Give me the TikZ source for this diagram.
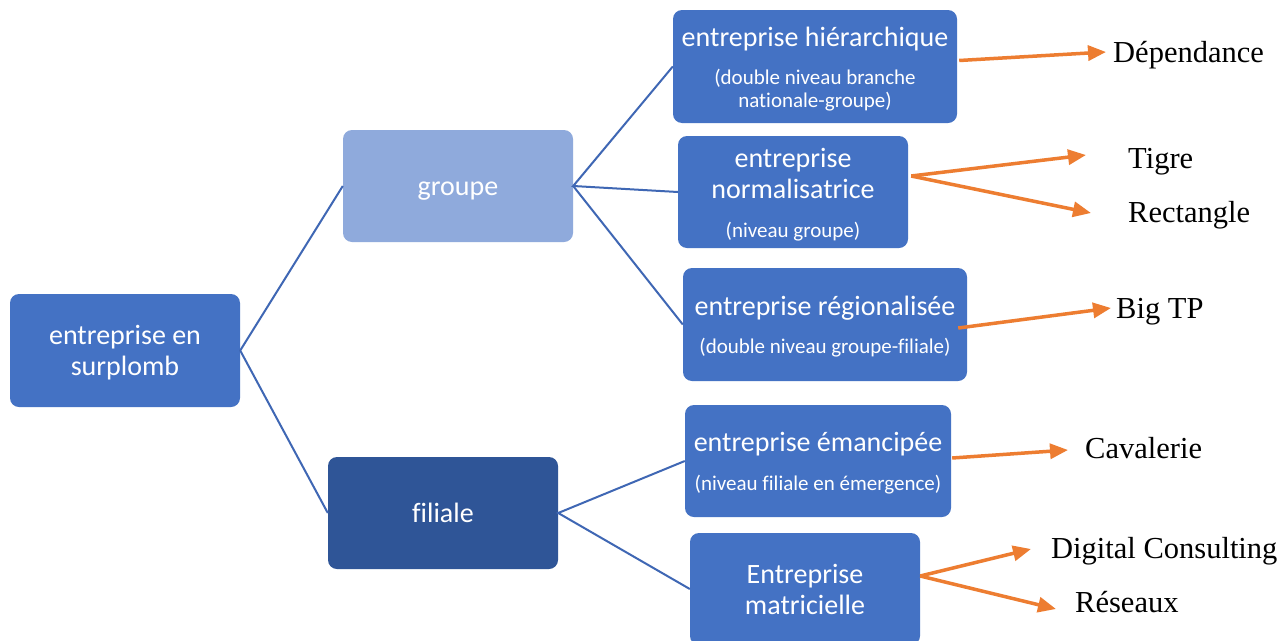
\documentclass[tikz,border=0pt]{standalone}
\usepackage{fontspec}
\usetikzlibrary{arrows.meta}
\newfontfamily\boxfont[Ligatures=NoCommon]{Carlito}
\newfontfamily\labfont{Liberation Serif}
\newcommand\bigtxt{\fontsize{28}{31}\selectfont}
\newcommand\smalltxt{\fontsize{21}{23}\selectfont}
\newcommand\st{\rule[-0.27em]{0pt}{1.22em}}
\definecolor{boxblue}{HTML}{4472C4}
\definecolor{lightblue}{HTML}{8FAADC}
\definecolor{darkblue}{HTML}{2F5597}
\definecolor{linkblue}{HTML}{3F67B4}
\definecolor{arrorange}{HTML}{ED7D31}
\begin{document}
\begin{tikzpicture}[x=1pt,y=-1pt,
  boxnode/.style={rectangle, rounded corners=9pt, fill=boxblue, draw=none,
    text=white, align=center, inner sep=0pt,
    font={\boxfont\smalltxt\lineskiplimit=-100pt}},
  link/.style={draw=linkblue, line width=2pt},
  oarrow/.style={draw=arrorange, line width=3.5pt,
    -{Triangle[length=18pt,width=15pt]}},
  labnode/.style={anchor=base west, inner sep=0pt, font={\labfont\fontsize{30.5}{34}\selectfont}, text=black}]
\useasboundingbox (0,0) rectangle (1282,640);
\clip (0,0) rectangle (1282,640);
\fill[white] (0,0) rectangle (1282,640);

% boxes
\node[boxnode, minimum width=230pt, minimum height=113pt] (root) at (125,350.5)
  {{\bigtxt\st entreprise en}\\[8pt]{\bigtxt\st surplomb}};
\node[boxnode, fill=lightblue, minimum width=230pt, minimum height=112pt] (grp) at (458,186)
  {{\bigtxt\st groupe}};
\node[boxnode, fill=darkblue, minimum width=230pt, minimum height=112pt] (fil) at (443,513)
  {{\bigtxt\st filiale}};
\node[boxnode, minimum width=284pt, minimum height=113pt] (hier) at (815,66.5)
  {{\bigtxt\st entreprise hiérarchique}\\[15pt](double niveau branche\\\st nationale-groupe)};
\node[boxnode, minimum width=230pt, minimum height=112pt] (norm) at (793,192)
  {{\bigtxt\st entreprise}\\[8pt]{\bigtxt normalisatrice}\\[16pt]\st(niveau groupe)};
\node[boxnode, minimum width=284pt, minimum height=113pt] (reg) at (825,324.5)
  {{\bigtxt\st entreprise régionalisée}\\[15pt]\st(double niveau groupe-filiale)};
\node[boxnode, minimum width=266pt, minimum height=112pt] (em) at (818,461)
  {{\bigtxt\st entreprise émancipée}\\[16pt]\st(niveau filiale en émergence)};
\node[boxnode, minimum width=230pt, minimum height=112pt] (mat) at (805,589)
  {{\bigtxt\st Entreprise}\\[8pt]{\bigtxt\st matricielle}};

% blue connectors
\draw[link] (grp.west) -- (root.east) -- (fil.west);
\draw[link] (hier.west) -- (grp.east) -- (norm.west);
\draw[link] (grp.east) -- (reg.west);
\draw[link] (em.west) -- (fil.east) -- (mat.west);

% labels
\node[labnode] (dep) at (1113,62) {Dépendance};
\node[labnode] (tig) at (1128,168) {Tigre};
\node[labnode] (rec) at (1128,222) {Rectangle};
\node[labnode] (big) at (1116,318) {Big TP};
\node[labnode] (cav) at (1085,458) {Cavalerie};
\node[labnode] (dig) at (1051,558) {Digital Consulting};
\node[labnode] (res) at (1075,612) {Réseaux};

% arrow tips
\coordinate (tdep) at (1106,52);
\coordinate (ttig) at (1086,155);
\coordinate (trec) at (1091,213);
\coordinate (tbig) at (1111,308);
\coordinate (tcav) at (1068,450);
\coordinate (tdig) at (1031,549);
\coordinate (tres) at (1056,609);

% orange arrows
\draw[oarrow] ([yshift=6pt]hier.east) ++(2,0) -- (tdep);
\draw[oarrow] ([yshift=16pt]norm.east) ++(3,0) -- (ttig);
\draw[oarrow] ([yshift=16pt]norm.east) ++(3,0) -- (trec);
\draw[oarrow] ([yshift=-3.5pt]reg.east) ++(-9,0) -- (tbig);
\draw[oarrow] ([yshift=3pt]em.east) ++(1,0) -- (tcav);
\draw[oarrow] ([yshift=13pt]mat.east) -- (tdig);
\draw[oarrow] ([yshift=13pt]mat.east) -- (tres);
\end{tikzpicture}
\end{document}
